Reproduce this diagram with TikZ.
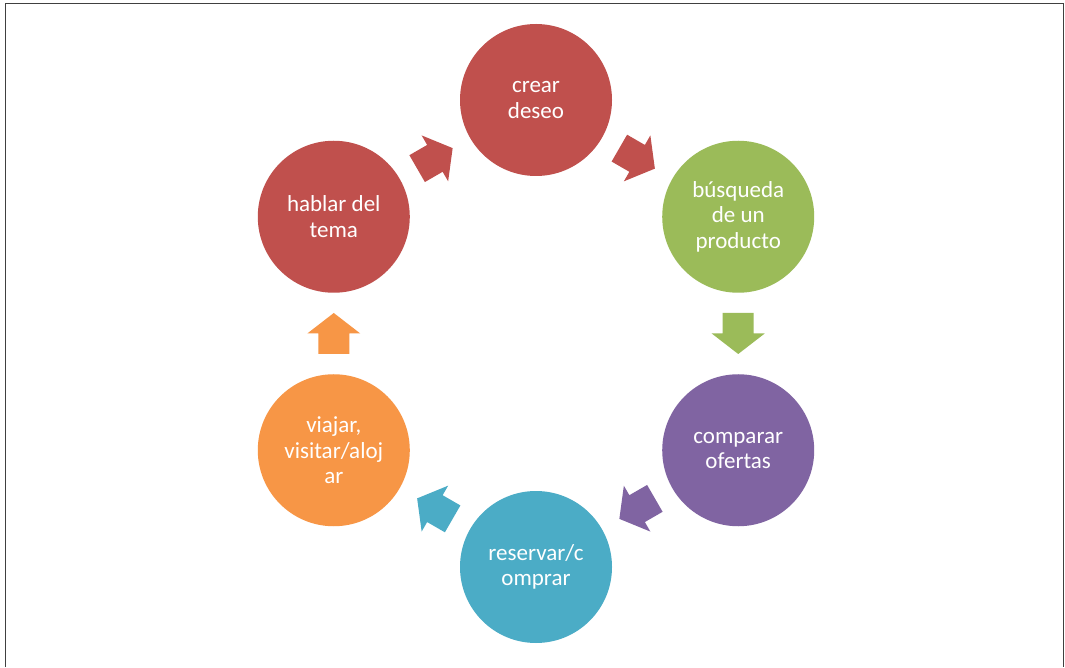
\documentclass[tikz,border=0pt]{standalone}
\usepackage{fontspec}
\setmainfont{Carlito}
\usetikzlibrary{calc}
\definecolor{cred}{HTML}{C0504D}
\definecolor{cgreen}{HTML}{9BBB59}
\definecolor{cpurple}{HTML}{8064A2}
\definecolor{cteal}{HTML}{4BACC6}
\definecolor{corange}{HTML}{F79646}
\begin{document}
\begin{tikzpicture}[x=1pt,y=1pt,
  stage/.style={circle, minimum size=152pt, inner sep=0pt, text=white, align=center,
    font=\fontsize{23}{25.5}\selectfont}]
\useasboundingbox (0,0) rectangle (1065,667);
\fill[white] (0,0) rectangle (1065,667);
\draw[line width=1.3pt, black!75] (5.5,0) -- (5.5,663.5) -- (1063.5,663.5) -- (1063.5,0);
\coordinate (ctr) at (536,333.5);
\node[stage, fill=cred]    (crear)    at ($(ctr)+(90:233.5)$)   {crear\\deseo};
\node[stage, fill=cgreen]  (busq)     at ($(ctr)+(30:233.5)$)   {búsqueda\\de un\\producto};
\node[stage, fill=cpurple] (comparar) at ($(ctr)+(-30:233.5)$)  {comparar\\ofertas};
\node[stage, fill=cteal]   (reservar) at ($(ctr)+(-90:233.5)$)  {reservar/c\\omprar};
\node[stage, fill=corange] (viajar)   at ($(ctr)+(-150:233.5)$) {viajar,\\visitar/aloj\\ar};
\node[stage, fill=cred]    (hablar)   at ($(ctr)+(150:233.5)$)  {hablar del\\tema};
\foreach \a/\b/\c/\r in {crear/busq/cred/-30, busq/comparar/cgreen/-90,
    comparar/reservar/cpurple/-150, reservar/viajar/cteal/150,
    viajar/hablar/corange/90, hablar/crear/cred/30}
  \fill[\c, shift={($(\a)!0.5!(\b)$)}, rotate=\r]
    (-20.5,-15.5) -- (0,-15.5) -- (0,-26.5) -- (20.5,0) -- (0,26.5) -- (0,15.5) -- (-20.5,15.5) -- cycle;
\end{tikzpicture}
\end{document}
